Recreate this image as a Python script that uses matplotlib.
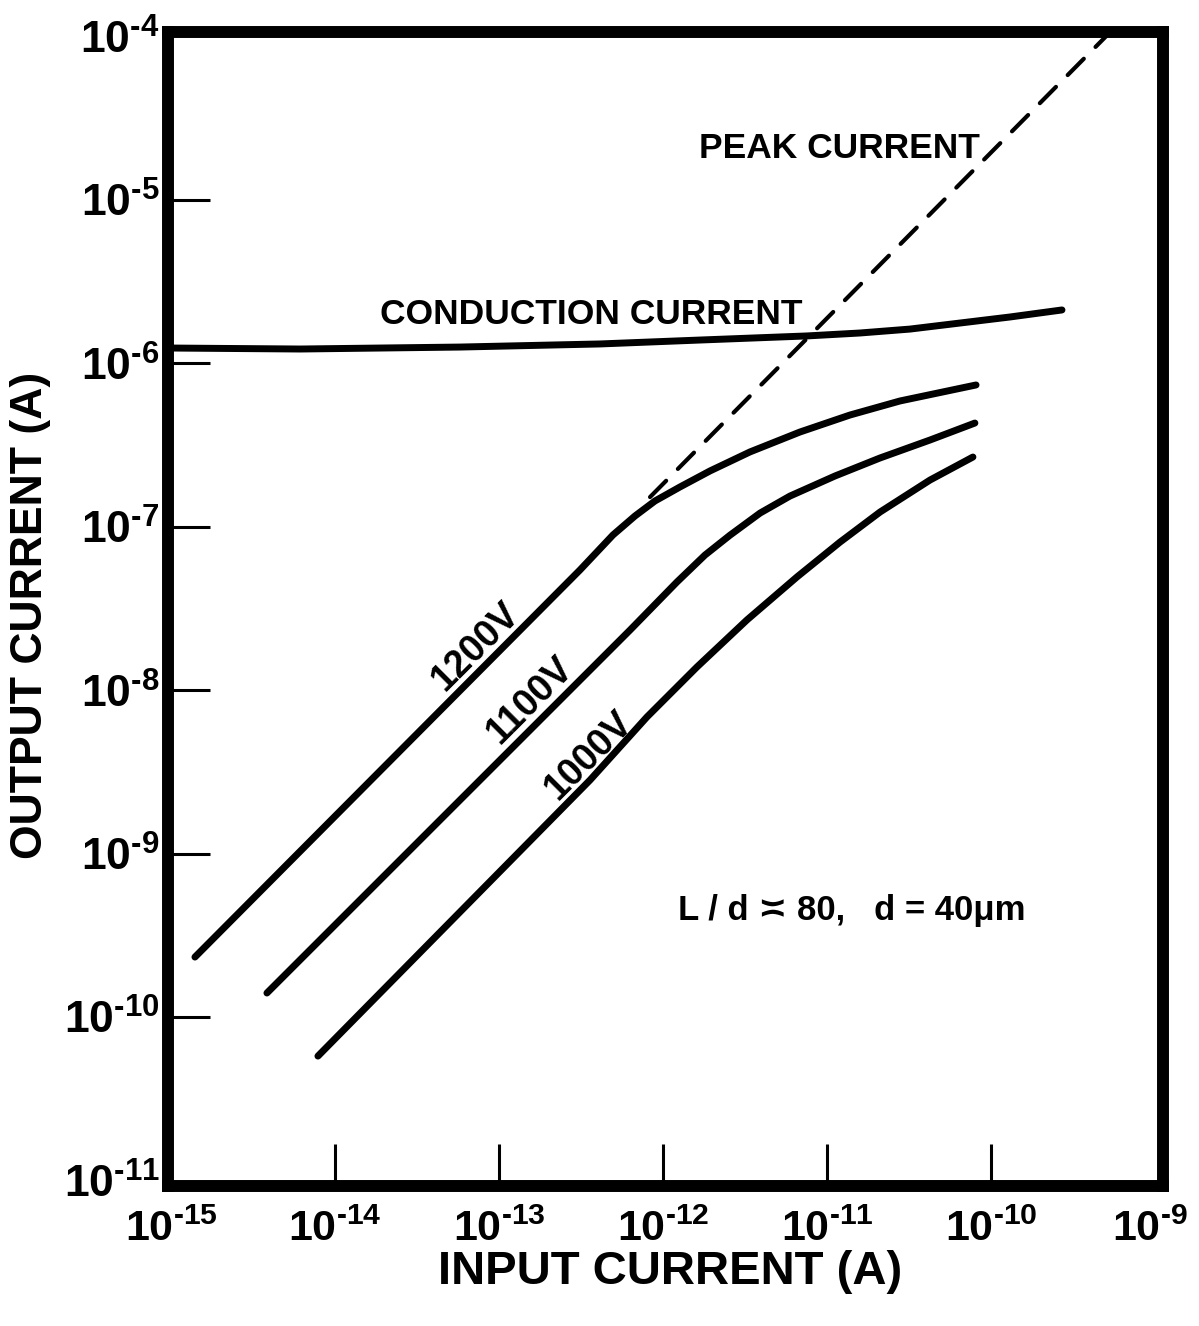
import numpy as np
import matplotlib
matplotlib.use("Agg")
import matplotlib.pyplot as plt
from matplotlib.transforms import ScaledTranslation

plt.rcParams['font.family'] = ['Liberation Sans', 'DejaVu Sans']
plt.rcParams['font.weight'] = 'bold'
plt.rcParams['mathtext.fontset'] = 'custom'
plt.rcParams['mathtext.rm'] = 'Liberation Sans:bold'
plt.rcParams['mathtext.bf'] = 'Liberation Sans:bold'
plt.rcParams['mathtext.it'] = 'Liberation Sans:bold'

# ---- data (log10 values) ----
cond_x = [-15.0, -14.213, -13.238, -12.384, -11.774, -11.122, -10.799, -10.494, -10.189, -9.884, -9.567]
cond_y = [-5.906, -5.912, -5.900, -5.881, -5.857, -5.832, -5.814, -5.790, -5.753, -5.716, -5.673]

peak_x = [-12.079, -9.30]
peak_y = [-6.818, -4.00]

v1200_x = [-14.854, -12.506, -12.305, -12.171, -12.049, -11.896, -11.713, -11.470, -11.165, -10.860, -10.555, -10.091]
v1200_y = [-9.633, -7.264, -7.050, -6.934, -6.842, -6.756, -6.658, -6.542, -6.420, -6.316, -6.230, -6.132]

v1100_x = [-14.415, -12.506, -12.201, -11.915, -11.744, -11.591, -11.408, -11.226, -10.951, -10.677, -10.372, -10.098]
v1100_y = [-9.853, -7.938, -7.632, -7.338, -7.173, -7.051, -6.916, -6.812, -6.689, -6.579, -6.469, -6.365]

v1000_x = [-14.104, -12.445, -12.098, -11.793, -11.488, -11.183, -10.921, -10.677, -10.372, -10.110]
v1000_y = [-10.239, -8.550, -8.164, -7.858, -7.570, -7.307, -7.094, -6.910, -6.714, -6.573]

x_ticks = [-15, -14, -13, -12, -11, -10, -9]
y_ticks = [-11, -10, -9, -8, -7, -6, -5, -4]

fig = plt.figure(figsize=(11.99, 13.26), dpi=100)
ax = fig.add_axes([168/1199, 1-1186/1326, (1163-168)/1199, (1186-32)/1326])

def p(v):
    return np.power(10.0, np.array(v))

def lab(t):
    return r'$\mathbf{10^{\text{-}%d}}$' % abs(t)

lw = 5
for xs, ys in [(cond_x, cond_y), (v1200_x, v1200_y), (v1100_x, v1100_y), (v1000_x, v1000_y)]:
    ax.plot(p(xs), p(ys), color='black', lw=lw, solid_capstyle='round',
            solid_joinstyle='round')
ax.plot(p(peak_x), p(peak_y), color='black', lw=3, linestyle=(0, (5.5, 4)),
        dash_capstyle='round')

ax.set_xscale('log')
ax.set_yscale('log')
ax.set_xlim(10**-15.0183, 10**-8.951)
ax.set_ylim(10**-11.034, 10**-3.972)

ax.set_xticks(p(x_ticks))
ax.set_xticklabels([lab(t) for t in x_ticks])
ax.set_yticks(p(y_ticks))
ax.set_yticklabels([lab(t) for t in y_ticks])
ax.minorticks_off()
ax.tick_params(axis='both', which='major', direction='in', length=30, width=2.2,
               labelsize=32, color='black')
ax.tick_params(axis='x', pad=17, labelsize=31)
ax.tick_params(axis='y', pad=6)
for t in (ax.xaxis.get_major_ticks()[0], ax.xaxis.get_major_ticks()[-1],
          ax.yaxis.get_major_ticks()[0], ax.yaxis.get_major_ticks()[-1]):
    t.tick1line.set_visible(False)
last = ax.xaxis.get_major_ticks()[-1].label1
last.set_transform(last.get_transform() + ScaledTranslation(-5/100, 0, fig.dpi_scale_trans))

for s in ax.spines.values():
    s.set_linewidth(8.6)
    s.set_color('black')

# annotations
ax.text(10**-10.067, 10**-4.682, 'PEAK CURRENT', ha='right', va='center', fontsize=25.5,
        fontweight='bold')
ax.text(10**-13.726, 10**-5.698, 'CONDUCTION CURRENT', ha='left', va='center', fontsize=25.5,
        fontweight='bold')
ax.text(10**-11.909, 10**-9.345, 'L / d \u224D 80,   d = 40\u03bcm', ha='left', va='center',
        fontsize=25, fontweight='bold')
for txt, xx, yy in [('1200V', -13.140, -7.736), ('1100V', -12.811, -8.060), ('1000V', -12.451, -8.397)]:
    ax.text(10**xx, 10**yy, txt, rotation=45, rotation_mode='anchor', ha='center',
            va='center', fontsize=27, fontweight='bold')

fig.text(670/1199, 1-1272/1326, 'INPUT CURRENT (A)', ha='center', va='center',
         fontsize=34, fontweight='bold')
fig.text(31/1199, 1-615/1326, 'OUTPUT CURRENT (A)', ha='center', va='center',
         rotation=90, fontsize=32, fontweight='bold')

fig.savefig('out.png', dpi=100, facecolor='white')
